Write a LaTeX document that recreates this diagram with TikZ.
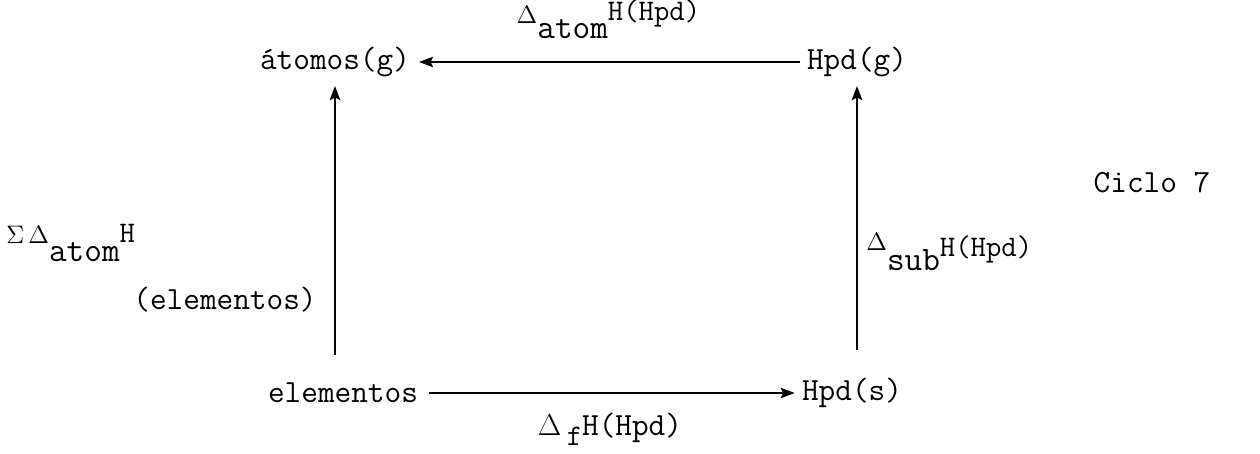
\documentclass[tikz,border=0pt]{standalone}
\usepackage{fontspec}
\usetikzlibrary{arrows.meta, positioning}

% sizes of the typed text
\newcommand{\typed}{\ttfamily\addfontfeature{FakeBold=0.7}\fontsize{18.4}{21}\selectfont}
\newcommand{\bigtyped}{\fontsize{19.5}{22}\selectfont}
\newcommand{\smalltyped}{\fontsize{17}{20}\selectfont}
\newcommand{\tinytyped}{\fontsize{15}{17}\selectfont}

\begin{document}
\begin{tikzpicture}[
    x=0.02cm, y=-0.02cm,
    species/.style = {font=\typed, inner sep=4pt},
    lbl/.style = {font=\typed, inner sep=0pt},
    arrow/.style = {-{Stealth[length=8pt, width=6pt, inset=1.5pt]}, line width=0.8pt}
  ]
  \useasboundingbox (0,0) rectangle (1260,453);

  \node[species] (atom) at (335,62)  {átomos(g)};
  \node[species] (hpdg) at (857,62)  {Hpd(g)};
  \node[species] (elem) at (343,393) {elementos};
  \node[species] (hpds) at (852,393) {Hpd(s)};

  \draw[arrow, shorten >=1pt] (hpdg.west) -- (atom.east)
    node[lbl, midway, above=13pt] (datom)
    {\raisebox{0.6ex}{\tinytyped\(\Delta\)}\raisebox{-0.45ex}{\bigtyped atom}\raisebox{0.8ex}{\smalltyped H(Hpd)}};
  \draw[arrow, shorten <=2pt] (elem.east) -- (hpds.west)
    node[lbl, midway, below=11pt] (dform)
    {\(\Delta\)\,\raisebox{-0.7ex}{\smalltyped f}H(Hpd)};
  \draw[arrow, shorten <=12pt, shorten >=1pt] (atom.south |- elem.north) -- (atom.south);
  \draw[arrow, shorten <=12pt, shorten >=1pt] (hpdg.south |- hpds.north) -- (hpdg.south);

  \node[lbl, anchor=west] (sumatom) at (6,243)
    {\raisebox{0.7ex}{\tinytyped\(\Sigma\,\Delta\)}\raisebox{-0.6ex}{\bigtyped atom}\raisebox{0.8ex}{\smalltyped H}};
  \node[lbl] (elemlbl) at (225,300) {(elementos)};
  \node[lbl, anchor=west] (dsub) at (866,252)
    {\raisebox{0.9ex}{\tinytyped\(\Delta\)}\raisebox{-0.55ex}{\bigtyped sub}\raisebox{0.5ex}{\smalltyped H(Hpd)}};
  \node[lbl] (ciclo) at (1152,183) {Ciclo 7};
\end{tikzpicture}
\end{document}
